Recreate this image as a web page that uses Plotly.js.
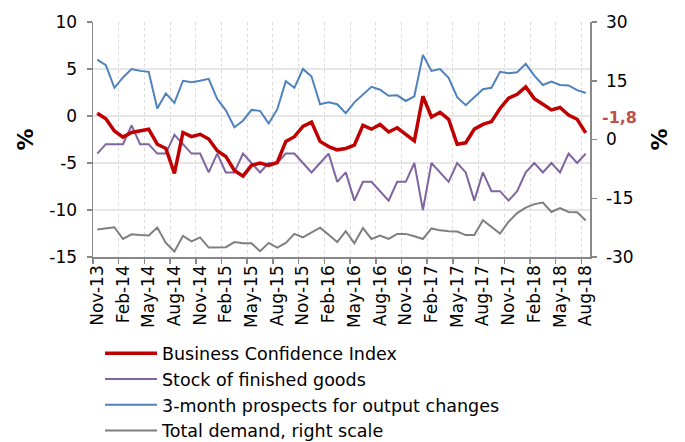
<!DOCTYPE html>
<html>
<head>
<meta charset="utf-8">
<script src="https://cdn.plot.ly/plotly-3.0.1.min.js"></script>
<style>html,body{margin:0;padding:0;background:#fff;}#chart{width:685px;height:442px;}</style>
</head>
<body>
<div id="chart"></div>
<script>
const months = ["Nov-13","Dec-13","Jan-14","Feb-14","Mar-14","Apr-14","May-14","Jun-14","Jul-14","Aug-14","Sep-14","Oct-14",
"Nov-14","Dec-14","Jan-15","Feb-15","Mar-15","Apr-15","May-15","Jun-15","Jul-15","Aug-15","Sep-15","Oct-15",
"Nov-15","Dec-15","Jan-16","Feb-16","Mar-16","Apr-16","May-16","Jun-16","Jul-16","Aug-16","Sep-16","Oct-16",
"Nov-16","Dec-16","Jan-17","Feb-17","Mar-17","Apr-17","May-17","Jun-17","Jul-17","Aug-17","Sep-17","Oct-17",
"Nov-17","Dec-17","Jan-18","Feb-18","Mar-18","Apr-18","May-18","Jun-18","Jul-18","Aug-18"];

const businessConfidence = [0.3,-0.3,-1.6,-2.25,-1.75,-1.6,-1.4,-3.0,-3.45,-6.1,-1.75,-2.2,
-1.95,-2.45,-3.7,-4.3,-5.8,-6.4,-5.25,-5.0,-5.25,-4.95,-2.7,-2.2,
-1.1,-0.65,-2.7,-3.25,-3.6,-3.45,-3.1,-1.0,-1.4,-0.9,-1.7,-1.25,
-2.0,-2.65,2.1,-0.1,0.4,-0.35,-3.0,-2.85,-1.4,-0.9,-0.6,0.8,
1.9,2.3,3.1,1.85,1.25,0.65,0.9,0.1,-0.35,-1.8];

const stockFinishedGoods = [-4,-3,-3,-3,-1,-3,-3,-4,-4,-2,-3,-4,
-4,-6,-4,-6,-6,-4,-5,-6,-5,-5,-4,-4,
-5,-6,-5,-4,-7,-6,-9,-7,-7,-8,-9,-7,
-7,-5,-10,-5,-6,-7,-5,-6,-9,-6,-8,-8,
-9,-8,-6,-5,-6,-5,-6,-4,-5,-4];

const outputProspects = [6.0,5.4,3.0,4.1,5.0,4.8,4.7,0.8,2.4,1.4,3.75,3.6,
3.75,3.95,1.8,0.6,-1.2,-0.5,0.65,0.55,-0.8,0.7,3.7,3.0,
5.0,4.2,1.25,1.45,1.25,0.3,1.45,2.3,3.1,2.8,2.15,2.2,
1.6,2.1,6.5,4.8,5.0,4.05,2.0,1.15,1.95,2.85,3.0,4.7,
4.55,4.65,5.55,4.3,3.3,3.65,3.3,3.25,2.75,2.45];

const totalDemand = [-23.0,-22.7,-22.4,-25.4,-24.2,-24.4,-24.5,-22.5,-26.4,-28.6,-24.6,-26.0,
-25.0,-27.6,-27.6,-27.5,-26.2,-26.5,-26.5,-28.5,-26.4,-27.6,-26.4,-24.1,
-25.0,-23.7,-22.5,-24.3,-26.2,-23.4,-26.5,-22.6,-25.4,-24.5,-25.4,-24.1,
-24.1,-24.7,-25.4,-22.7,-23.2,-23.4,-23.5,-24.4,-24.4,-20.6,-22.3,-24.0,
-21.0,-18.8,-17.4,-16.5,-16.1,-18.5,-17.5,-18.5,-18.6,-20.7];

const seriesNames = ["Business Confidence Index","Stock of finished goods","3-month prospects for output changes","Total demand, right scale"];
const leftTicks = [-15, -10, -5, 0, 5, 10];
const leftTickText = ["-15", "-10", "-5", "0", "5", "10"];
const rightTicks = [-30, -15, 0, 15, 30];
const rightTickText = ["-30", "-15", "0", "15", "30"];
const lastLabel = "-1,8";

const xIdx = months.map((m, i) => i);
const labelIdx = xIdx.filter(i => i % 3 === 0);
const labelText = labelIdx.map(i => months[i]);
const boundaries = labelIdx.map(i => i - 0.5);

const FONT = "DejaVu Sans, Verdana, sans-serif";
const AXC = "#888888";

const traces = [
  {x: xIdx, y: totalDemand, name: seriesNames[3], yaxis: "y2", mode: "lines",
   line: {color: "#7F7F7F", width: 2}, legendrank: 4},
  {x: xIdx, y: outputProspects, name: seriesNames[2], mode: "lines",
   line: {color: "#4F81BD", width: 2}, legendrank: 3},
  {x: xIdx, y: stockFinishedGoods, name: seriesNames[1], mode: "lines",
   line: {color: "#8064A2", width: 2}, legendrank: 2},
  {x: xIdx, y: businessConfidence, name: seriesNames[0], mode: "lines",
   line: {color: "#C00000", width: 3.5}, legendrank: 1}
];

const layout = {
  width: 685, height: 442,
  margin: {l: 93, r: 95, t: 22, b: 185, autoexpand: false},
  paper_bgcolor: "#fff", plot_bgcolor: "#fff",
  font: {family: FONT, color: "#000", size: 17},
  showlegend: true,
  legend: {x: 0.0141, y: -0.334, xanchor: "left", yanchor: "top", orientation: "v",
    font: {family: FONT, size: 17.5, color: "#000"}, tracegroupgap: 0, itemwidth: 52,
    bgcolor: "rgba(0,0,0,0)"},
  xaxis: {
    range: [-0.5, 57.5], tickmode: "array", tickvals: labelIdx, ticktext: labelText,
    ticks: "", tickangle: -90, tickfont: {family: FONT, size: 17, color: "#000"},
    automargin: false,
    showgrid: false, zeroline: false, showline: true, linecolor: AXC, linewidth: 1.5,
    minor: {tickmode: "array", tickvals: boundaries, ticks: "outside", ticklen: 5, tickwidth: 1.5,
      tickcolor: AXC, showgrid: true, gridcolor: "#dadada", gridwidth: 1, griddash: "dot"},
    fixedrange: true
  },
  yaxis: {
    range: [-15, 10], tickmode: "array", tickvals: leftTicks, ticktext: leftTickText,
    ticks: "outside", ticklen: 5, tickwidth: 1.5, tickcolor: AXC, ticklabelstandoff: 6,
    showline: true, linecolor: AXC, linewidth: 1.5, zeroline: false, automargin: false,
    showgrid: true, gridcolor: "#e6e6e6", gridwidth: 1.5,
    tickfont: {family: FONT, size: 17, color: "#000"},
    title: {text: "%", font: {family: FONT, size: 22, color: "#000", weight: "bold"}, standoff: 9}
  },
  yaxis2: {
    overlaying: "y", side: "right", range: [-30, 30], tickmode: "array", tickvals: rightTicks, ticktext: rightTickText,
    ticks: "outside", ticklen: 5, tickwidth: 1.5, tickcolor: AXC, ticklabelstandoff: 6,
    showline: true, linecolor: AXC, linewidth: 1.5, zeroline: false, showgrid: false, automargin: false,
    tickfont: {family: FONT, size: 17, color: "#000"},
    title: {text: "%", font: {family: FONT, size: 22, color: "#000", weight: "bold"}, standoff: 19}
  },
  annotations: [
    {xref: "paper", yref: "y", x: 1.06, y: businessConfidence[businessConfidence.length - 1] + 1.6,
     xanchor: "center", yanchor: "middle", text: lastLabel, showarrow: false,
     font: {family: FONT, size: 16, color: "#C0504D", weight: "bold"}}
  ]
};

Plotly.newPlot("chart", traces, layout, {displayModeBar: false, staticPlot: true});
</script>
</body>
</html>
